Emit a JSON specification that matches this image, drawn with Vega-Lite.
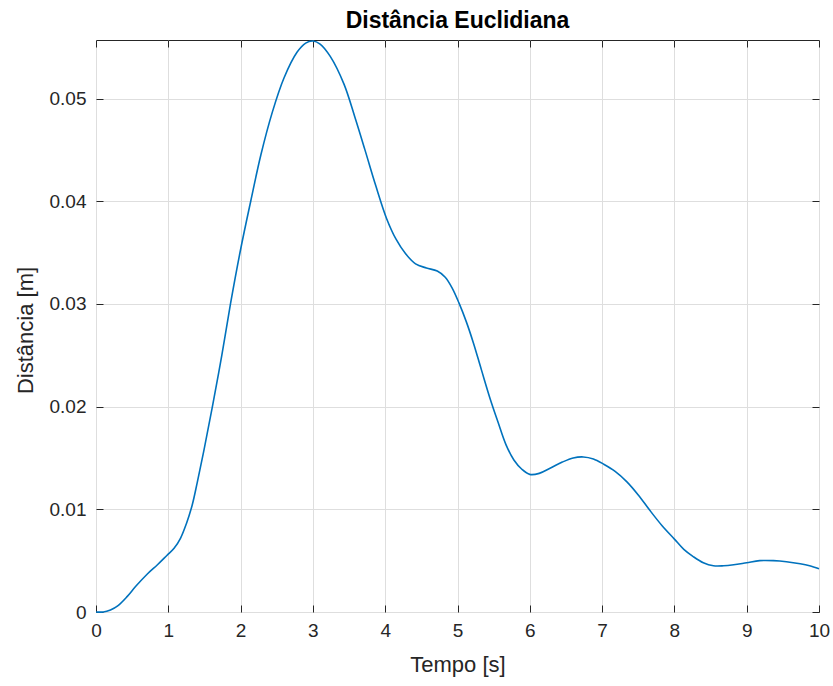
{
  "$schema": "https://vega.github.io/schema/vega-lite/v6.json",
  "width": 723,
  "height": 572,
  "autosize": {"type": "none"},
  "padding": {"left": 96, "top": 40, "right": 14, "bottom": 74},
  "background": "white",
  "config": {
    "font": "Liberation Sans",
    "view": {"stroke": "#262626", "strokeWidth": 1}
  },
  "title": {
    "text": "Distância Euclidiana",
    "fontSize": 23,
    "fontWeight": "bold",
    "font": "Liberation Sans",
    "color": "#000000",
    "anchor": "middle",
    "baseline": "alphabetic",
    "offset": -13
  },
  "data": {
    "values": [
      {"t": 0, "d": 0},
      {"t": 0.1, "d": 0.0000},
      {"t": 0.2, "d": 0.0002},
      {"t": 0.3, "d": 0.0006},
      {"t": 0.43, "d": 0.0015},
      {"t": 0.55, "d": 0.0025},
      {"t": 0.71, "d": 0.0037},
      {"t": 0.85, "d": 0.0046},
      {"t": 0.98, "d": 0.0055},
      {"t": 1.08, "d": 0.0062},
      {"t": 1.17, "d": 0.0072},
      {"t": 1.25, "d": 0.0086},
      {"t": 1.33, "d": 0.0104},
      {"t": 1.40, "d": 0.0126},
      {"t": 1.5, "d": 0.0160},
      {"t": 1.61, "d": 0.0200},
      {"t": 1.74, "d": 0.0250},
      {"t": 1.86, "d": 0.0300},
      {"t": 2.0, "d": 0.0353},
      {"t": 2.14, "d": 0.0400},
      {"t": 2.28, "d": 0.0445},
      {"t": 2.44, "d": 0.0487},
      {"t": 2.60, "d": 0.0520},
      {"t": 2.78, "d": 0.0545},
      {"t": 2.9, "d": 0.0554},
      {"t": 3.0, "d": 0.0556},
      {"t": 3.1, "d": 0.0553},
      {"t": 3.24, "d": 0.0541},
      {"t": 3.43, "d": 0.0514},
      {"t": 3.58, "d": 0.0482},
      {"t": 3.72, "d": 0.0450},
      {"t": 3.87, "d": 0.0415},
      {"t": 4.02, "d": 0.0383},
      {"t": 4.15, "d": 0.0363},
      {"t": 4.28, "d": 0.0349},
      {"t": 4.42, "d": 0.0339},
      {"t": 4.57, "d": 0.0335},
      {"t": 4.72, "d": 0.0332},
      {"t": 4.83, "d": 0.0326},
      {"t": 4.93, "d": 0.0315},
      {"t": 5.02, "d": 0.0301},
      {"t": 5.12, "d": 0.0283},
      {"t": 5.22, "d": 0.0262},
      {"t": 5.33, "d": 0.0236},
      {"t": 5.45, "d": 0.0208},
      {"t": 5.56, "d": 0.0185},
      {"t": 5.67, "d": 0.0163},
      {"t": 5.78, "d": 0.0148},
      {"t": 5.89, "d": 0.0139},
      {"t": 6.0, "d": 0.0134},
      {"t": 6.13, "d": 0.0135},
      {"t": 6.28, "d": 0.0140},
      {"t": 6.45, "d": 0.0146},
      {"t": 6.6, "d": 0.0150},
      {"t": 6.74, "d": 0.0151},
      {"t": 6.88, "d": 0.0149},
      {"t": 7.02, "d": 0.0144},
      {"t": 7.18, "d": 0.0137},
      {"t": 7.34, "d": 0.0127},
      {"t": 7.5, "d": 0.0114},
      {"t": 7.66, "d": 0.0099},
      {"t": 7.83, "d": 0.0084},
      {"t": 8.0, "d": 0.0071},
      {"t": 8.13, "d": 0.0061},
      {"t": 8.26, "d": 0.0054},
      {"t": 8.4, "d": 0.0048},
      {"t": 8.54, "d": 0.0045},
      {"t": 8.68, "d": 0.0045},
      {"t": 8.82, "d": 0.0046},
      {"t": 9.0, "d": 0.0048},
      {"t": 9.18, "d": 0.0050},
      {"t": 9.37, "d": 0.0050},
      {"t": 9.55, "d": 0.0049},
      {"t": 9.74, "d": 0.0047},
      {"t": 9.87, "d": 0.0045},
      {"t": 10.0, "d": 0.0042}
    ]
  },
  "layer": [
    {
      "mark": {"type": "line", "color": "#0072BD", "strokeWidth": 1.6, "interpolate": "catmull-rom", "clip": false},
      "encoding": {
        "x": {
          "field": "t", "type": "quantitative",
          "scale": {"domain": [0, 10], "nice": false, "zero": false},
          "axis": {
            "orient": "bottom",
            "values": [0, 1, 2, 3, 4, 5, 6, 7, 8, 9, 10],
            "title": "Tempo [s]",
            "titleFont": "Liberation Sans",
            "titleFontSize": 22,
            "titleFontWeight": "normal",
            "titleColor": "#262626",
            "titleX": 361.5,
            "titleY": 52,
            "titleAlign": "center",
            "titleBaseline": "middle",
            "labelFontSize": 19,
            "labelColor": "#262626",
            "labelFont": "Liberation Sans",
            "labelPadding": 16,
            "labelFlush": false,
            "labelOverlap": false,
            "domain": false,
            "ticks": true,
            "tickSize": -7,
            "tickColor": "#262626",
            "tickWidth": 1,
            "grid": true,
            "gridColor": "#dedede",
            "gridWidth": 1
          }
        },
        "y": {
          "field": "d", "type": "quantitative",
          "scale": {"domain": [0, 0.0557], "nice": false},
          "axis": {
            "orient": "left",
            "values": [0, 0.01, 0.02, 0.03, 0.04, 0.05],
            "labelExpr": "datum.value == 0 ? '0' : format(datum.value, '.2f')",
            "title": "Distância [m]",
            "titleFont": "Liberation Sans",
            "titleFontSize": 22,
            "titleFontWeight": "normal",
            "titleColor": "#262626",
            "titleAngle": 270,
            "titleX": -71,
            "titleY": 290,
            "titleAlign": "center",
            "titleBaseline": "middle",
            "labelFontSize": 19,
            "labelColor": "#262626",
            "labelFont": "Liberation Sans",
            "labelPadding": 17,
            "labelFlush": false,
            "labelOverlap": false,
            "domain": false,
            "ticks": true,
            "tickSize": -7,
            "tickColor": "#262626",
            "tickWidth": 1,
            "grid": true,
            "gridColor": "#dedede",
            "gridWidth": 1
          }
        }
      }
    },
    {
      "mark": {"type": "line", "opacity": 0},
      "encoding": {
        "x": {
          "field": "t", "type": "quantitative",
          "axis": {
            "orient": "top",
            "values": [0, 1, 2, 3, 4, 5, 6, 7, 8, 9, 10],
            "labels": false,
            "title": null,
            "domain": false,
            "grid": false,
            "tickSize": -7,
            "tickColor": "#262626",
            "tickWidth": 1
          }
        },
        "y": {
          "field": "d", "type": "quantitative",
          "axis": {
            "orient": "right",
            "values": [0, 0.01, 0.02, 0.03, 0.04, 0.05],
            "labels": false,
            "title": null,
            "domain": false,
            "grid": false,
            "tickSize": -7,
            "tickColor": "#262626",
            "tickWidth": 1
          }
        }
      }
    }
  ],
  "resolve": {"axis": {"x": "independent", "y": "independent"}}
}
